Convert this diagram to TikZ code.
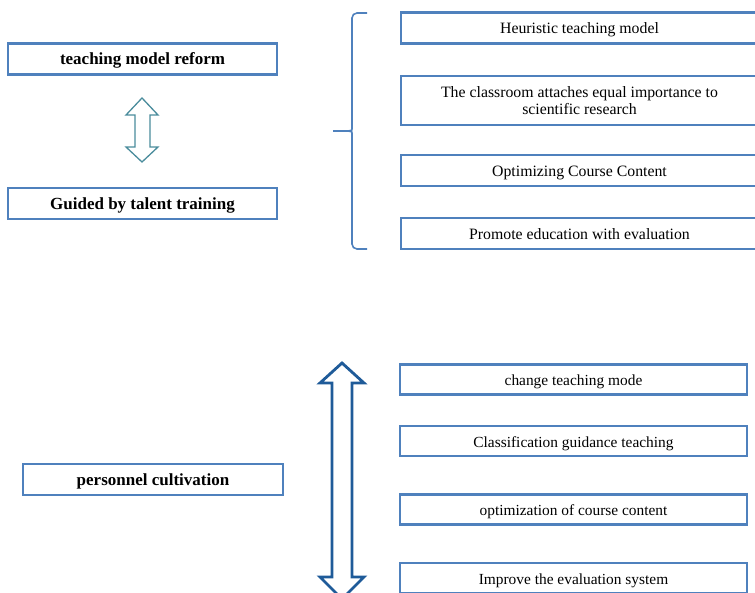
\documentclass[tikz,border=0pt]{standalone}
\usepackage{fontspec}
\setmainfont{Liberation Serif}

\definecolor{boxblue}{HTML}{4F81BD}
\definecolor{arrowteal}{HTML}{4A8C9C}
\definecolor{arrowblue}{HTML}{1F5B99}

\tikzset{
  box/.style={draw=boxblue, line width=2.4pt, fill=white, inner sep=2pt, align=center},
  oneline/.style={text height=14pt, text depth=2pt},
  mainbox/.style={box, oneline, minimum width=269pt, minimum height=31pt,
                  font=\fontsize{17}{20}\selectfont\bfseries},
  topitem/.style={box, minimum width=357pt, minimum height=31pt,
                  font=\fontsize{15.8}{17.3}\selectfont},
  lowitem/.style={box, oneline, minimum width=347pt, minimum height=30pt,
                  font=\fontsize{15.4}{18.5}\selectfont},
  brace/.style={draw=boxblue, line width=1.6pt, rounded corners=5pt}
}

\begin{document}
\begin{tikzpicture}[x=1pt, y=-1pt]
\useasboundingbox (0,0) rectangle (755,593);

% upper part: reform and talent training
\node[mainbox] (reform) at (142.5,59) {teaching model reform};
\node[mainbox] (talent) at (142.5,203.5) {Guided by talent training};

% small two-way arrow
\draw[arrowteal, line width=1.3pt, fill=white]
  (142,98) -- (126,115) -- (135,115) -- (135,147) -- (126,147) -- (142,162)
  -- (158,147) -- (150,147) -- (150,115) -- (158,115) -- cycle;

% curly bracket
\draw[brace] (367,13) -- (352,13) -- (352,124) .. controls (352,131) .. (333,131);
\draw[brace] (367,249) -- (352,249) -- (352,138) .. controls (352,131) .. (333,131);

% measures of the reform
\node[topitem, oneline] (heuristic) at (579.5,28) {Heuristic teaching model};
\node[topitem, minimum height=49pt] (research) at (579.5,100.5)
  {The classroom attaches equal importance to\\scientific research};
\node[topitem, oneline] (content) at (579.5,170.5) {Optimizing Course Content};
\node[topitem, oneline] (evaluation) at (579.5,233.5) {Promote education with evaluation};

% lower part: personnel cultivation
\node[mainbox, minimum width=260pt] (cultivation) at (153,479.5) {personnel cultivation};

% large two-way arrow
\draw[arrowblue, line width=2.8pt, fill=white]
  (342,363) -- (320,383) -- (332,383) -- (332,577) -- (320,577) -- (342,599)
  -- (364,577) -- (352,577) -- (352,383) -- (364,383) -- cycle;

% ways of cultivation
\node[lowitem] (mode) at (573.5,379.5) {change teaching mode};
\node[lowitem] (guidance) at (573.5,441) {Classification guidance teaching};
\node[lowitem] (course) at (573.5,509.5) {optimization of course content};
\node[lowitem] (system) at (573.5,578) {Improve the evaluation system};

\end{tikzpicture}
\end{document}
